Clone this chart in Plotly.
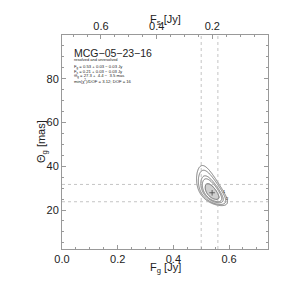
import numpy as np
import plotly.graph_objects as go

# ---- data ----
source_name = "MCG\u221205\u221223\u221216"
subtitle = "resolved and unresolved"
Fg_best, Fg_up, Fg_lo = 0.53, 0.03, 0.03
Fs_best, Fs_up, Fs_lo = 0.21, 0.03, 0.03
Th_best, Th_up, Th_lo = 27.3, 4.4, 3.5
chi2_red, dof = 3.12, 16
F_total = Fg_best + Fs_best          # 0.74 Jy

# chi^2 surface parameters (estimated from contour shapes)
chi_u0, chi_th0 = 0.539, 27.9
chi_su, chi_sv, chi_rho, chi_pow = 0.0162, 0.00084, 0.62, -1.5
line_levels = [2.3, 4.61, 6.17, 9.21, 11.8]
fill_level = 2.6

x_ticks_bottom = [0.0, 0.2, 0.4, 0.6]
x_ticks_top = [0.2, 0.4, 0.6]
y_ticks = [20, 40, 60, 80]
y_range = [2.2, 100]

# ---- chi^2 grid ----
u = np.linspace(0.42, 0.68, 400)
th = np.linspace(15, 50, 400)
U, TH = np.meshgrid(u, th)
V = TH ** chi_pow
v0 = chi_th0 ** chi_pow
a = (U - chi_u0) / chi_su
b = (V - v0) / chi_sv
chi = (a**2 - 2 * chi_rho * a * b + b**2) / (1 - chi_rho**2)
imin = np.unravel_index(np.argmin(chi), chi.shape)

fig = go.Figure()

# filled inner region
zfill = np.where(chi <= fill_level, 1.0, np.nan)
fig.add_trace(go.Heatmap(x=u, y=th, z=zfill, colorscale=[[0, "#d0d0d0"], [1, "#d0d0d0"]],
                         showscale=False, hoverinfo="skip", zsmooth="best"))

for L in line_levels:
    fig.add_trace(go.Contour(x=u, y=th, z=chi, showscale=False,
                             contours=dict(start=L, end=L, size=1, coloring="lines"),
                             colorscale=[[0, "#555"], [1, "#555"]],
                             line=dict(width=0.8), hoverinfo="skip"))

fig.add_trace(go.Scatter(x=[U[imin]], y=[TH[imin]], mode="markers",
                         marker=dict(symbol="cross-thin", size=4, line=dict(width=0.8, color="#444")),
                         showlegend=False, hoverinfo="skip"))

# top axis dummy trace
fig.add_trace(go.Scatter(x=[F_total - 0.0], y=[y_range[0]], xaxis="x2", mode="markers",
                         marker=dict(opacity=0), showlegend=False, hoverinfo="skip"))

# dotted error lines
for xv in [Fg_best - Fg_lo, Fg_best + Fg_up]:
    fig.add_shape(type="line", xref="x", yref="paper", x0=xv, x1=xv, y0=0, y1=1,
                  line=dict(color="#aaa", width=0.7, dash="dot"))
for yv in [Th_best - Th_lo, Th_best + Th_up]:
    fig.add_shape(type="line", xref="paper", yref="y", x0=0, x1=1, y0=yv, y1=yv,
                  line=dict(color="#aaa", width=0.7, dash="dot"))

axcol = "#999"
font = "Liberation Sans, Arial, sans-serif"
fig.update_layout(
    width=291, height=286, margin=dict(l=54, r=31, t=21, b=45),
    paper_bgcolor="white", plot_bgcolor="white", showlegend=False,
    font=dict(family=font, size=11, color="#222"),
    xaxis=dict(range=[0, F_total], tickvals=x_ticks_bottom, ticktext=[f"{t:.1f}" for t in x_ticks_bottom],
               ticks="inside", ticklen=4, tickcolor=axcol, showline=True, linecolor=axcol, linewidth=1,
               showgrid=False, zeroline=False, mirror=False,
               minor=dict(dtick=0.05, tick0=0, ticks="inside", ticklen=2, tickcolor=axcol)),
    xaxis2=dict(overlaying="x", side="top", range=[F_total, 0], tickvals=x_ticks_top,
                ticktext=[f"{t:.1f}" for t in x_ticks_top],
                ticks="inside", ticklen=4, tickcolor=axcol, showline=True, linecolor=axcol, linewidth=1,
                showgrid=False, zeroline=False,
                minor=dict(dtick=0.05, tick0=0, ticks="inside", ticklen=2, tickcolor=axcol)),
    yaxis=dict(range=y_range, tickvals=y_ticks, ticks="inside", ticklen=4, tickcolor=axcol,
               showline=True, linecolor=axcol, linewidth=1, mirror="ticks", showgrid=False, zeroline=False,
               minor=dict(dtick=5, tick0=0, ticks="inside", ticklen=2, tickcolor=axcol)),
)

def py(ypix):
    return (249 - ypix) / 220

def px(xpix):
    return (xpix - 62) / 206

ann = []
ann.append(dict(text="F<sub>g</sub> [Jy]", x=0.5, y=py(269), xanchor="center"))
ann.append(dict(text="F<sub>s</sub> [Jy]", x=0.5, y=py(13.5), xanchor="center"))
ann.append(dict(text="\u0398<sub>g</sub> [mas]", x=px(42), y=0.5, textangle=-90, xanchor="center"))
ann.append(dict(text=source_name, x=px(72), y=py(47.5), xanchor="left", font=dict(size=10.5)))
ann.append(dict(text=subtitle, x=px(72), y=py(54), xanchor="left", font=dict(size=4)))
lines = [
    f"F<sub>g</sub> = {Fg_best:.2f} + {Fg_up:.2f} \u2212 {Fg_lo:.2f} Jy",
    f"F<sub>s</sub> = {Fs_best:.2f} + {Fs_up:.2f} \u2212 {Fs_lo:.2f} Jy",
    f"\u0398<sub>g</sub> = {Th_best:.1f} +  {Th_up:.1f} \u2212  {Th_lo:.1f} mas",
    f"min(\u03c7<sup>2</sup>)/DOF = {chi2_red:.2f}; DOF = {dof}",
]
for i, t in enumerate(lines):
    ann.append(dict(text=t, x=px(72), y=py(62 + 4.6 * i), xanchor="left", font=dict(size=4.2)))
for a_ in ann:
    a_.update(xref="paper", yref="paper", yanchor="middle", showarrow=False)
    a_.setdefault("font", dict(size=11))
for lab, (xx, yy) in zip(["1", "2"], [(0.585, 28.5), (0.593, 25.5)]):
    ann.append(dict(text=lab, x=xx, y=yy, xref="x", yref="y", showarrow=False, font=dict(size=4)))
fig.update_layout(annotations=ann)

fig.write_html("out.html")
